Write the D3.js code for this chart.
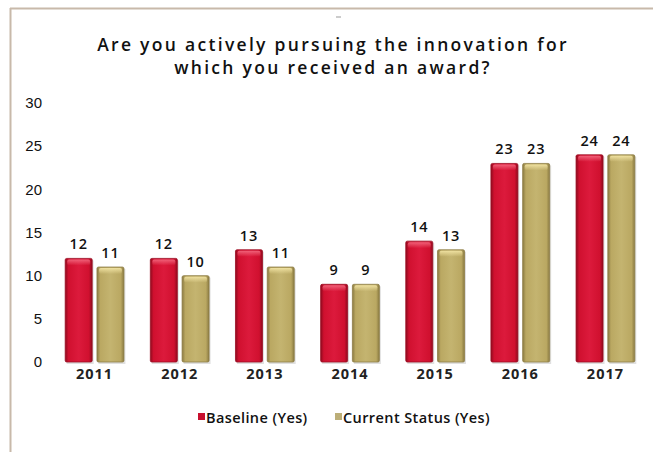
<!DOCTYPE html>
<html>
<head>
<meta charset="utf-8">
<script src="https://cdn.jsdelivr.net/npm/d3@7"></script>
<style>
  html, body { margin: 0; padding: 0; background: #fff; }
  svg { display: block; }
</style>
</head>
<body>
<svg id="chart" width="653" height="452"></svg>
<script>
// Survey counts by award year
const years = ["2011", "2012", "2013", "2014", "2015", "2016", "2017"];
const baseline = [12, 12, 13, 9, 14, 23, 24];
const current = [11, 10, 11, 9, 13, 23, 24];
const seriesNames = ["Baseline (Yes)", "Current Status (Yes)"];
const yTicks = [0, 5, 10, 15, 20, 25, 30];
const titleLines = ["Are you actively pursuing the innovation for", "which you received an award?"];

const svg = d3.select("#chart");
const W = 653, H = 452;
const labelFont = "'Open Sans', 'DejaVu Sans', sans-serif";

// frame
svg.append("line").attr("x1", 10).attr("x2", W).attr("y1", 8.5).attr("y2", 8.5)
  .attr("stroke", "#c8b9aa").attr("stroke-width", 2);
svg.append("line").attr("x1", 10.5).attr("x2", 10.5).attr("y1", 8).attr("y2", H)
  .attr("stroke", "#c8b9aa").attr("stroke-width", 2);
svg.append("line").attr("x1", 336).attr("x2", 341).attr("y1", 17).attr("y2", 17)
  .attr("stroke", "#999").attr("stroke-width", 1);

// gradients
const defs = svg.append("defs");
function barGradient(id, edge, mid, light) {
  const g = defs.append("linearGradient").attr("id", id)
    .attr("x1", "0").attr("x2", "1").attr("y1", "0").attr("y2", "0");
  g.append("stop").attr("offset", "0%").attr("stop-color", edge);
  g.append("stop").attr("offset", "12%").attr("stop-color", mid);
  g.append("stop").attr("offset", "50%").attr("stop-color", light);
  g.append("stop").attr("offset", "88%").attr("stop-color", mid);
  g.append("stop").attr("offset", "100%").attr("stop-color", edge);
}
barGradient("gRed", "#8e0a1e", "#d0102f", "#dc1a3c");
barGradient("gGold", "#8a7a42", "#baa862", "#c4b470");
function topGradient(id, c) {
  const g = defs.append("linearGradient").attr("id", id)
    .attr("x1", "0").attr("x2", "0").attr("y1", "0").attr("y2", "1");
  g.append("stop").attr("offset", "0%").attr("stop-color", c).attr("stop-opacity", 0.9);
  g.append("stop").attr("offset", "100%").attr("stop-color", c).attr("stop-opacity", 0);
}
topGradient("tRed", "#f36a80");
topGradient("tGold", "#f4e6a6");

// title, one text element per line
svg.append("g").selectAll("text").data(titleLines).join("text")
  .attr("x", 333).attr("y", (d, i) => 51 + i * 23)
  .attr("text-anchor", "middle")
  .attr("font-family", labelFont)
  .attr("font-weight", 600)
  .attr("font-size", 17.5)
  .attr("letter-spacing", 2.3)
  .attr("fill", "#111")
  .text(d => d);

// scales
const y = d3.scaleLinear().domain([0, 30]).range([362, 103]);
const x0 = d3.scaleBand().domain(years).range([52, 648]).paddingInner(0.31).paddingOuter(0.155);
const x1 = d3.scaleBand().domain(seriesNames).range([0, x0.bandwidth()]).paddingInner(0.15);

// y axis labels
const yAxis = d3.axisLeft(y).tickValues(yTicks).tickSize(0).tickPadding(0).tickFormat(d3.format("d"));
const yg = svg.append("g").attr("transform", "translate(42,0)").call(yAxis);
yg.select(".domain").remove();
yg.selectAll("text")
  .attr("font-family", "'Liberation Sans', Arial, sans-serif")
  .attr("font-size", 15)
  .attr("fill", "#111");

// x axis labels
const xAxis = d3.axisBottom(x0).tickSize(0).tickPadding(0);
const xg = svg.append("g").attr("transform", "translate(0,369)").call(xAxis);
xg.select(".domain").remove();
xg.selectAll("text")
  .attr("font-family", labelFont)
  .attr("font-weight", "bold")
  .attr("font-size", 14.5)
  .attr("letter-spacing", 1)
  .attr("fill", "#222");

// bars
const rows = years.map((yr, i) => ({ year: yr, values: [
  { key: seriesNames[0], v: baseline[i], fill: "url(#gRed)", top: "url(#tRed)", stroke: "#9a0c22" },
  { key: seriesNames[1], v: current[i], fill: "url(#gGold)", top: "url(#tGold)", stroke: "#8e7e46" }
]}));

const groups = svg.append("g").selectAll("g").data(rows).join("g")
  .attr("transform", d => `translate(${x0(d.year)},0)`);

const bars = groups.selectAll("g").data(d => d.values).join("g");

// soft shadow under bars
bars.append("rect")
  .attr("x", d => x1(d.key) + 1.5)
  .attr("y", d => y(d.v) + 2)
  .attr("width", x1.bandwidth())
  .attr("height", d => y(0) - y(d.v))
  .attr("fill", "#000").attr("opacity", 0.12);

bars.append("rect")
  .attr("x", d => x1(d.key))
  .attr("y", d => y(d.v))
  .attr("width", x1.bandwidth())
  .attr("height", d => y(0) - y(d.v))
  .attr("rx", 1.5)
  .attr("fill", d => d.fill)
  .attr("stroke", d => d.stroke)
  .attr("stroke-width", 0.8);

bars.append("rect")
  .attr("x", d => x1(d.key) + 2)
  .attr("y", d => y(d.v) + 1)
  .attr("width", x1.bandwidth() - 4)
  .attr("height", 6)
  .attr("rx", 2)
  .attr("fill", d => d.top);

// value labels
bars.append("text")
  .attr("x", d => x1(d.key) + x1.bandwidth() / 2)
  .attr("y", d => y(d.v) - 9)
  .attr("text-anchor", "middle")
  .attr("font-family", labelFont)
  .attr("font-weight", 600)
  .attr("font-size", 14.5)
  .attr("letter-spacing", 0.8)
  .attr("fill", "#111")
  .text(d => d.v);

// legend
const legendItems = [
  { name: seriesNames[0], color: "#c8102e", x: 198 },
  { name: seriesNames[1], color: "#bcae78", x: 335 }
];
const lg = svg.append("g").selectAll("g").data(legendItems).join("g")
  .attr("transform", d => `translate(${d.x},418)`);
lg.append("rect").attr("x", 0).attr("y", -5).attr("width", 7).attr("height", 7)
  .attr("fill", d => d.color);
lg.append("text").attr("x", 8).attr("y", 5)
  .attr("font-family", labelFont)
  .attr("font-weight", 600)
  .attr("font-size", 14.5)
  .attr("letter-spacing", 0.4)
  .attr("fill", "#111")
  .text(d => d.name);
</script>
</body>
</html>
